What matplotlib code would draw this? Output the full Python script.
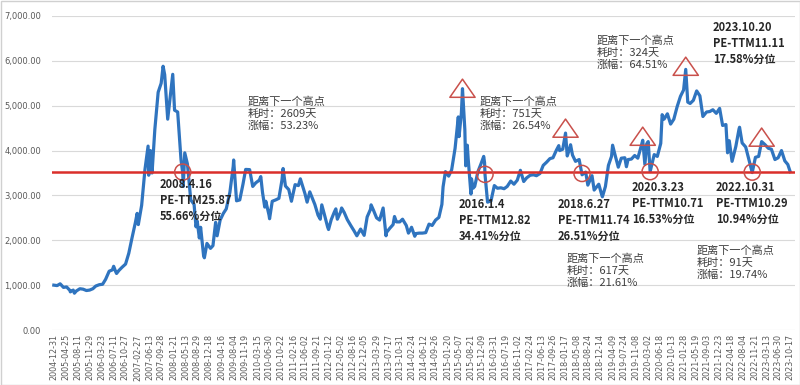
import matplotlib
matplotlib.use("Agg")
import matplotlib.pyplot as plt
from matplotlib.path import Path
from matplotlib.patches import Rectangle
import pandas as pd

plt.rcParams['font.family'] = ['Noto Sans CJK SC', 'DejaVu Sans']

# ---------------- data ----------------
index_dates = [
    "2004-12-31", "2005-01-31", "2005-02-28", "2005-03-31", "2005-04-29", "2005-05-31", "2005-06-03",
    "2005-06-30", "2005-07-11", "2005-07-29", "2005-08-31", "2005-09-30", "2005-10-31", "2005-11-30",
    "2005-12-30", "2006-01-26", "2006-02-28", "2006-03-31", "2006-04-28", "2006-05-31", "2006-06-30",
    "2006-07-12", "2006-07-31", "2006-08-08", "2006-08-31", "2006-09-29", "2006-10-31", "2006-11-30",
    "2006-12-29", "2007-01-31", "2007-02-16", "2007-02-27", "2007-03-30", "2007-04-30", "2007-05-29",
    "2007-06-04", "2007-06-20", "2007-07-05", "2007-07-31", "2007-08-31", "2007-09-28", "2007-10-16",
    "2007-10-31", "2007-11-28", "2007-12-28", "2008-01-14", "2008-01-31", "2008-02-29", "2008-03-31",
    "2008-04-16", "2008-04-21", "2008-05-05", "2008-05-30", "2008-06-30", "2008-07-31", "2008-08-18",
    "2008-08-29", "2008-09-18", "2008-09-30", "2008-10-28", "2008-11-04", "2008-11-28", "2008-12-31",
    "2009-01-23", "2009-02-17", "2009-03-03", "2009-03-31", "2009-04-30", "2009-05-27", "2009-06-30",
    "2009-07-31", "2009-08-04", "2009-08-31", "2009-09-30", "2009-10-30", "2009-11-24", "2009-12-31",
    "2010-01-29", "2010-02-26", "2010-03-31", "2010-04-14", "2010-04-30", "2010-05-21", "2010-05-31",
    "2010-06-30", "2010-07-05", "2010-07-30", "2010-08-31", "2010-09-30", "2010-10-29", "2010-11-08",
    "2010-11-30", "2010-12-31", "2011-01-25", "2011-02-28", "2011-03-31", "2011-04-18", "2011-05-31",
    "2011-06-20", "2011-07-15", "2011-08-31", "2011-09-30", "2011-10-21", "2011-11-04", "2011-11-30",
    "2011-12-28", "2012-01-06", "2012-01-31", "2012-02-29", "2012-03-14", "2012-03-28", "2012-04-27",
    "2012-05-07", "2012-05-31", "2012-06-29", "2012-07-31", "2012-08-31", "2012-09-26", "2012-10-31",
    "2012-12-03", "2012-12-31", "2013-01-31", "2013-02-06", "2013-02-28", "2013-03-29", "2013-04-26",
    "2013-05-29", "2013-06-25", "2013-06-28", "2013-07-31", "2013-08-30", "2013-09-12", "2013-09-30",
    "2013-10-31", "2013-11-26", "2013-12-31", "2014-01-20", "2014-01-30", "2014-02-18", "2014-03-20",
    "2014-03-31", "2014-04-30", "2014-05-30", "2014-06-30", "2014-07-31", "2014-08-29", "2014-09-30",
    "2014-10-31", "2014-11-28", "2014-12-09", "2014-12-31", "2015-01-30", "2015-02-27", "2015-03-31",
    "2015-04-30", "2015-05-07", "2015-05-29", "2015-06-08", "2015-06-30", "2015-07-08", "2015-07-23",
    "2015-07-31", "2015-08-26", "2015-08-31", "2015-09-15", "2015-09-30", "2015-10-30", "2015-11-27",
    "2015-12-23", "2015-12-31", "2016-01-04", "2016-01-28", "2016-02-29", "2016-03-31", "2016-04-29",
    "2016-05-31", "2016-06-30", "2016-07-29", "2016-08-31", "2016-09-30", "2016-10-31", "2016-11-29",
    "2016-12-30", "2017-01-26", "2017-02-28", "2017-03-31", "2017-04-28", "2017-05-31", "2017-06-30",
    "2017-07-31", "2017-08-31", "2017-09-29", "2017-10-31", "2017-11-22", "2017-11-30", "2017-12-29",
    "2018-01-24", "2018-02-09", "2018-02-28", "2018-03-12", "2018-03-30", "2018-04-27", "2018-05-31",
    "2018-06-27", "2018-07-31", "2018-08-20", "2018-09-28", "2018-10-18", "2018-11-30", "2018-12-28",
    "2019-01-03", "2019-01-31", "2019-02-28", "2019-03-29", "2019-04-08", "2019-04-30", "2019-05-31",
    "2019-06-28", "2019-07-31", "2019-08-15", "2019-08-30", "2019-09-30", "2019-10-31", "2019-11-29",
    "2019-12-31", "2020-01-14", "2020-02-03", "2020-02-20", "2020-03-05", "2020-03-23", "2020-04-30",
    "2020-05-29", "2020-06-30", "2020-07-13", "2020-07-31", "2020-08-31", "2020-09-30", "2020-10-30",
    "2020-11-30", "2020-12-31", "2021-01-29", "2021-02-18", "2021-03-09", "2021-03-31", "2021-04-30",
    "2021-05-31", "2021-06-30", "2021-07-28", "2021-08-31", "2021-09-30", "2021-10-29", "2021-11-30",
    "2021-12-31", "2022-01-28", "2022-02-28", "2022-03-15", "2022-03-31", "2022-04-26", "2022-05-31",
    "2022-06-30", "2022-07-05", "2022-07-29", "2022-08-31", "2022-09-30", "2022-10-31", "2022-11-30",
    "2022-12-30", "2023-01-27", "2023-02-28", "2023-03-31", "2023-04-28", "2023-05-31", "2023-06-30",
    "2023-07-31", "2023-08-31", "2023-09-28", "2023-10-20",
]
index_values = [
    1000, 990, 1030, 950, 960, 880, 850,
    890, 820, 870, 920, 910, 880, 890,
    920, 980, 1010, 1020, 1130, 1310, 1340,
    1420, 1300, 1260, 1330, 1400, 1470, 1710,
    2040, 2400, 2600, 2350, 2780, 3580, 4100,
    3450, 4000, 3500, 4470, 5300, 5500, 5880,
    5690, 4700, 5340, 5700, 4900, 4860, 3800,
    3500, 3200, 3950, 3700, 2900, 2800, 2300,
    2430, 2050, 2290, 1650, 1610, 1930, 1820,
    1880, 2400, 2100, 2450, 2600, 2700, 3070,
    3650, 3790, 2880, 2900, 3250, 3580, 3575,
    3200, 3280, 3340, 3420, 3070, 2740, 2870,
    2560, 2480, 2870, 2900, 2935, 3350, 3600,
    3210, 3130, 2870, 3240, 3220, 3370, 3040,
    2850, 3080, 2800, 2560, 2470, 2790, 2560,
    2300, 2240, 2460, 2630, 2700, 2470, 2630,
    2720, 2620, 2460, 2330, 2210, 2100, 2250,
    2110, 2520, 2690, 2790, 2670, 2500, 2450,
    2720, 2100, 2170, 2270, 2350, 2530, 2410,
    2410, 2470, 2330, 2160, 2200, 2290, 2090,
    2150, 2160, 2160, 2170, 2360, 2330, 2450,
    2510, 2800, 3190, 3530, 3430, 3570, 4050,
    4750, 4310, 4840, 5380, 4470, 3660, 4120,
    3820, 3030, 3370, 3160, 3200, 3530, 3700,
    3870, 3730, 3470, 2850, 2880, 3220, 3160,
    3170, 3150, 3200, 3320, 3250, 3340, 3560,
    3310, 3390, 3450, 3460, 3440, 3490, 3670,
    3740, 3820, 3840, 4010, 4110, 4000, 4030,
    4390, 3880, 4020, 4130, 3900, 3760, 3800,
    3460, 3520, 3230, 3440, 3120, 3250, 3010,
    2970, 3200, 3670, 3870, 4120, 3910, 3630,
    3830, 3840, 3640, 3800, 3810, 3890, 3830,
    4100, 4230, 3690, 4150, 4200, 3530, 3910,
    3870, 4160, 4800, 4700, 4820, 4590, 4700,
    4980, 5210, 5350, 5810, 5080, 5050, 5120,
    5330, 5220, 4760, 4860, 4870, 4910, 4830,
    4940, 4560, 4580, 3950, 4220, 3760, 4090,
    4480, 4520, 4170, 4080, 3800, 3510, 3850,
    3870, 4200, 4130, 4050, 4030, 3800, 3840,
    4000, 3770, 3690, 3530,
]

ref_level = 3520

tick_labels = [
    "2004-12-31", "2005-04-25", "2005-08-11", "2005-11-29", "2006-03-23", "2006-07-11", "2006-10-27",
    "2007-02-27", "2007-06-13", "2007-09-28", "2008-01-21", "2008-05-13", "2008-08-29", "2008-12-18",
    "2009-04-16", "2009-08-04", "2009-11-19", "2010-03-15", "2010-06-30", "2010-10-22", "2011-02-16",
    "2011-06-02", "2011-09-21", "2012-01-12", "2012-05-02", "2012-08-16", "2012-12-05", "2013-03-29",
    "2013-07-17", "2013-10-31", "2014-02-24", "2014-06-12", "2014-09-26", "2015-01-20", "2015-05-07",
    "2015-08-21", "2015-12-09", "2016-03-31", "2016-07-19", "2016-11-02", "2017-02-24", "2017-06-13",
    "2017-09-26", "2018-01-17", "2018-05-08", "2018-08-24", "2018-12-14", "2019-04-09", "2019-07-24",
    "2019-11-08", "2020-03-02", "2020-06-18", "2020-10-13", "2021-01-28", "2021-05-19", "2021-09-03",
    "2021-12-23", "2022-04-18", "2022-08-04", "2022-11-21", "2023-03-13", "2023-06-30", "2023-10-17",
]

# low points (circles) and high points (triangles)
low_dates = ["2008-04-16", "2016-01-04", "2018-06-27", "2020-03-23", "2022-10-31"]
low_values = [3520, 3470, 3490, 3530, 3520]
high_dates = ["2015-06-08", "2018-01-24", "2020-01-14", "2021-02-18", "2023-01-27"]
high_values = [5390, 4500, 4320, 5880, 4300]

low_notes = [
    "2008.4.16\nPE-TTM25.87\n55.66%分位",
    "2016.1.4\nPE-TTM12.82\n34.41%分位",
    "2018.6.27\nPE-TTM11.74\n26.51%分位",
    "2020.3.23\nPE-TTM10.71\n16.53%分位",
    "2022.10.31\nPE-TTM10.29\n10.94%分位",
]
gap_notes = [
    "距离下一个高点\n耗时：2609天\n涨幅：53.23%",
    "距离下一个高点\n耗时：751天\n涨幅：26.54%",
    "距离下一个高点\n耗时：617天\n涨幅：21.61%",
    "距离下一个高点\n耗时：324天\n涨幅：64.51%",
    "距离下一个高点\n耗时：91天\n涨幅：19.74%",
]
latest_note = "2023.10.20\nPE-TTM11.11\n17.58%分位"

# ---------------- figure ----------------
W, H = 800, 385
fig = plt.figure(figsize=(W / 100, H / 100), dpi=100)
fig.patch.set_facecolor("white")
ax = fig.add_axes([52 / W, 1 - 330 / H, (795 - 52) / W, (330 - 16) / H])

x = pd.to_datetime(index_dates)
ax.plot(x, index_values, color="#2F74BF", lw=2.3, zorder=3, solid_joinstyle="round")
ax.axhline(ref_level, color="#DA2F2A", lw=1.8, zorder=4)

tri = Path([(0, 0.72), (-1, -0.72), (1, -0.72), (0, 0.72)],
           [Path.MOVETO, Path.LINETO, Path.LINETO, Path.CLOSEPOLY])
ax.scatter(pd.to_datetime(high_dates), high_values, marker=tri, s=330,
           facecolors="none", edgecolors="#C9504B", linewidths=1.1, zorder=5)
ax.scatter(pd.to_datetime(low_dates), low_values, marker="o", s=135,
           facecolors="none", edgecolors="#C9504B", linewidths=1.1, zorder=5)

ax.set_ylim(0, 7000)
ax.set_yticks(range(0, 7001, 1000))
ax.set_yticklabels([f"{v:,.2f}" for v in range(0, 7001, 1000)])
ax.set_xlim(pd.Timestamp("2004-12-14"), pd.Timestamp("2023-12-04"))
tick_pos = pd.to_datetime(tick_labels)
ax.set_xticks(tick_pos)
ax.set_xticklabels(tick_labels, rotation=90)
ax.tick_params(axis="both", length=0, labelsize=6, colors="#595959")
ax.tick_params(axis="x", pad=3, labelsize=5.8)
ax.tick_params(axis="y", pad=8)
for lab in ax.get_xticklabels() + ax.get_yticklabels():
    lab.set_family("DejaVu Sans")
ax.grid(axis="y", color="#D9D9D9", lw=0.8, zorder=0)
for s in ax.spines.values():
    s.set_visible(False)

# ---------------- annotations (figure pixel positions) ----------------
def put(px, py, txt, bold, color):
    fig.text(px / W, 1 - py / H, txt, ha="left", va="top", fontsize=8,
             linespacing=1.28, color=color, fontweight="bold" if bold else "normal")

low_pos = [(160, 178), (459, 198), (558, 198), (632, 181), (716, 181)]
gap_pos = [(248, 96), (480, 96), (567, 253), (597, 35), (697, 245)]
for (px, py), t in zip(low_pos, low_notes):
    put(px, py, t, True, "#262626")
for (px, py), t in zip(gap_pos, gap_notes):
    put(px, py, t, False, "#404040")
put(713, 21, latest_note, True, "#262626")

fig.add_artist(Rectangle((0.5 / W, 0.5 / H), 1 - 1 / W, 1 - 1 / H, transform=fig.transFigure,
                         fill=False, edgecolor="#D0D0D0", lw=1))

fig.savefig("out.png", dpi=100)
